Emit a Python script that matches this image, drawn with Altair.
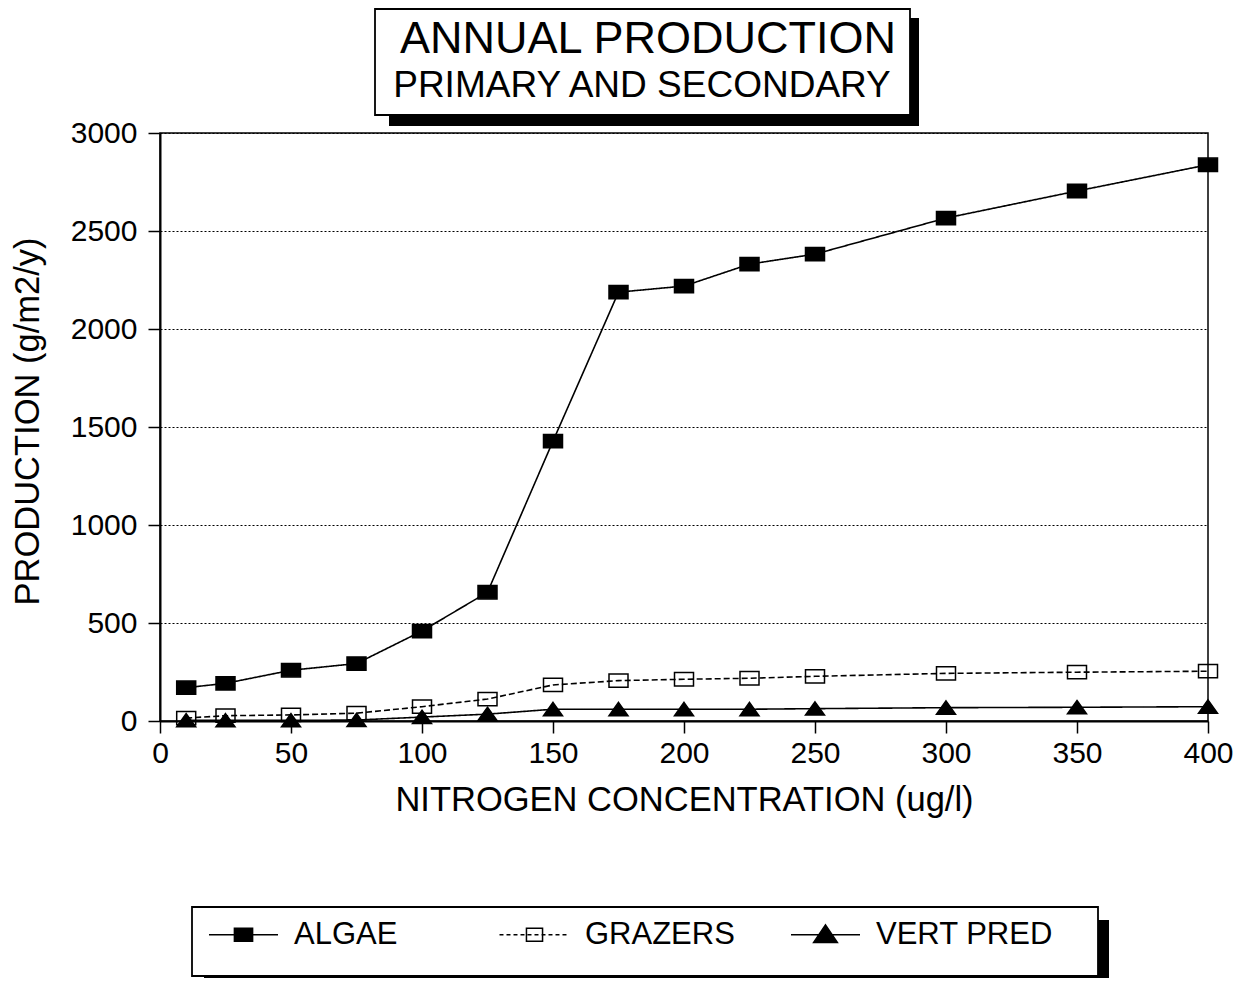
import altair as alt
import pandas as pd

# ---- data ----
nitrogen = [10, 25, 50, 75, 100, 125, 150, 175, 200, 225, 250, 300, 350, 400]
algae = [170, 192, 259, 293, 459, 657, 1428, 2188, 2219, 2331, 2382, 2566, 2704, 2838]
grazers = [15, 27, 31, 40, 73, 112, 184, 206, 213, 218, 228, 243, 249, 254]
vert_pred = [3, 3, 3, 5, 20, 35, 60, 60, 60, 60, 63, 68, 70, 73]
series_names = ["ALGAE", "GRAZERS", "VERT PRED"]
x_ticks = [0, 50, 100, 150, 200, 250, 300, 350, 400]
y_ticks = [0, 500, 1000, 1500, 2000, 2500, 3000]
title_lines = ["ANNUAL PRODUCTION", "PRIMARY AND SECONDARY"]
x_title = "NITROGEN CONCENTRATION (ug/l)"
y_title = "PRODUCTION (g/m2/y)"

rows = []
for name, vals in zip(series_names, [algae, grazers, vert_pred]):
    for n, v in zip(nitrogen, vals):
        rows.append({"n": n, "v": v, "series": name})
df = pd.DataFrame(rows)
one = pd.DataFrame({"k": [0]})

FONT = "Liberation Sans"
W, H = 1048, 588

xs = alt.Scale(domain=[0, 400], nice=False)
ys = alt.Scale(domain=[0, 3000], nice=False)

x_enc = alt.X("n:Q", scale=xs, axis=alt.Axis(
    values=x_ticks, format="d", title=x_title, grid=False, labelFont=FONT, labelFontSize=30,
    labelColor="black", labelPadding=5, labelFlush=False, labelOverlap=False,
    tickColor="black", tickSize=12, tickWidth=1.5, domainColor="black", domainWidth=2,
    titleFont=FONT, titleFontSize=34.5, titleFontWeight="normal", titleColor="black",
    titleBaseline="alphabetic", titleX=W / 2, titleY=89))
y_enc = alt.Y("v:Q", scale=ys, axis=alt.Axis(
    values=y_ticks, format="d", title=y_title, grid=True, gridColor="black", gridDash=[2, 2],
    gridWidth=1, labelFont=FONT, labelFontSize=30, labelColor="black", labelPadding=11,
    labelFlush=False, labelOverlap=False,
    tickColor="black", tickSize=12, tickWidth=1.5, domainColor="black", domainWidth=2,
    titleFont=FONT, titleFontSize=34.5, titleFontWeight="normal", titleColor="black",
    titleBaseline="alphabetic", titleAngle=270, titleAlign="center",
    titleX=-122, titleY=288))

SQUARE = "M-1,-0.7H1V0.7H-1Z"
TRI = "M0,-0.72L1,0.68H-1Z"

lines = alt.Chart(df).mark_line(color="black", strokeWidth=1.6).encode(
    x=x_enc, y=y_enc,
    strokeDash=alt.StrokeDash("series:N", scale=alt.Scale(
        domain=series_names, range=[[1, 0], [6, 3], [1, 0]]), legend=None),
    order="n:Q",
)

points = alt.Chart(df).mark_point(filled=True, opacity=1, stroke="black",
                                  strokeWidth=1.5, size=361).encode(
    x=x_enc, y=y_enc,
    shape=alt.Shape("series:N", scale=alt.Scale(domain=series_names,
                    range=[SQUARE, SQUARE, TRI]), legend=None),
    fill=alt.Fill("series:N", scale=alt.Scale(domain=series_names,
                  range=["black", "transparent", "black"]), legend=None),
)

LEG_ALGAE = "M-4.93,0H4.93M-1.3,-0.93H1.3V0.93H-1.3Z"
LEG_GRAZ = ("M-5,0H-4.43M-4,0H-3.43M-3,0H-2.43M-2,0H-1.43M-1,0H-0.43M0,0H0.57"
            "M1,0H1.57M2,0H2.57M3,0H3.57M4,0H4.57M-1.15,-0.93H1.15V0.93H-1.15Z")
LEG_VERT = "M-4.93,0H4.93M0,-1.4L1.7,1.1H-1.7Z"

leg = alt.Legend(title=None, orient="none", legendX=68, legendY=786,
                 direction="horizontal", symbolSize=196, symbolStrokeWidth=1.5,
                 labelFont=FONT, labelFontSize=31, labelColor="black", labelOffset=35,
                 labelLimit=400, columnPadding=25, gridAlign="all", padding=0,
                 labelBaseline="middle")

legend_layer = alt.Chart(df).transform_filter("false").mark_point(
    filled=True, opacity=1, strokeWidth=1.5).encode(
    x=x_enc, y=y_enc,
    shape=alt.Shape("series:N", scale=alt.Scale(domain=series_names,
                    range=[LEG_ALGAE, LEG_GRAZ, LEG_VERT]), legend=leg),
    fill=alt.Fill("series:N", scale=alt.Scale(domain=series_names,
                  range=["black", "transparent", "black"]), legend=leg),
    stroke=alt.Stroke("series:N", scale=alt.Scale(domain=series_names,
                      range=["black", "black", "black"]), legend=leg),
)


def box(x1, x2, y1, y2, fill, stroke=None):
    kw = dict(fill=fill)
    if stroke:
        kw.update(stroke=stroke, strokeWidth=1.8)
    return alt.Chart(one).mark_rect(**kw).encode(
        x=alt.value(x1), x2=alt.value(x2), y=alt.value(y1), y2=alt.value(y2))


title_shadow = box(229, 759, -115, -7, "black")
title_box = box(215, 750, -124, -18, "white", "black")
legend_shadow = box(44, 949, 787, 860, "black")
legend_box = box(32, 938, 774, 843, "white", "black")

t1 = alt.Chart(one).mark_text(font=FONT, fontSize=45, align="center",
                              baseline="alphabetic", color="black",
                              text=title_lines[0]).encode(
    x=alt.value(488), y=alt.value(-80))
t2 = alt.Chart(one).mark_text(font=FONT, fontSize=37, align="center",
                              baseline="alphabetic", color="black",
                              text=title_lines[1]).encode(
    x=alt.value(482), y=alt.value(-36))

chart = alt.layer(
    title_shadow, title_box, legend_shadow, legend_box,
    lines, points, legend_layer, t1, t2
).resolve_scale(
    shape="independent", fill="independent", stroke="independent"
).properties(
    width=W, height=H,
    autosize=alt.AutoSizeParams(type="none"),
    padding={"left": 152, "top": 125, "right": 36, "bottom": 257},
).configure_view(stroke="black", strokeWidth=1.5)

chart.save("out.html", embed_options={"renderer": "svg", "actions": False})
